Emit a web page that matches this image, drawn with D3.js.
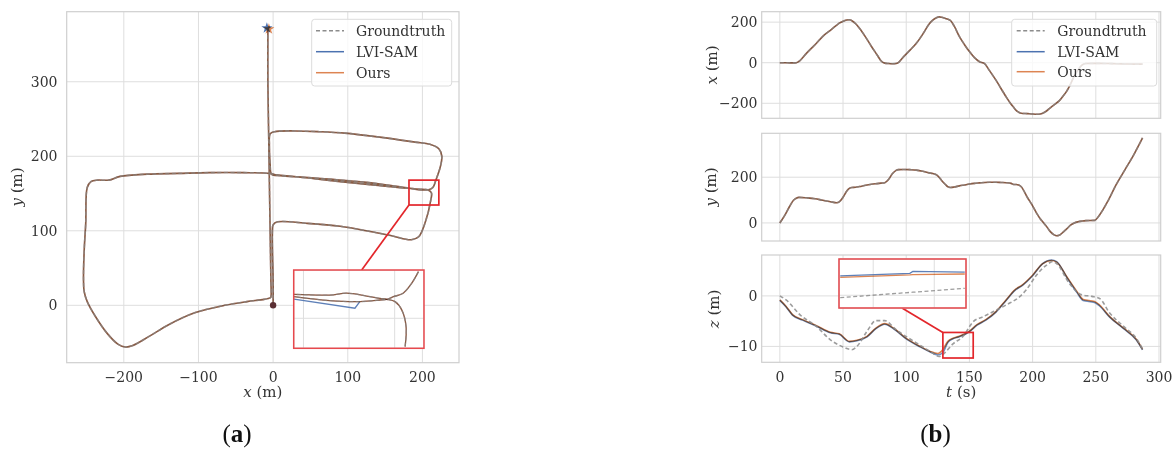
<!DOCTYPE html>
<html>
<head>
<meta charset="utf-8">
<script src="https://cdn.jsdelivr.net/npm/d3@7"></script>
<style>
body { margin: 0; background: #fff; }
svg text { font-family: "DejaVu Serif", serif; fill: #333; }
</style>
</head>
<body>
<svg id="fig" width="1173" height="451"></svg>
<script>
// trajectory (same for all three methods in x / y)
const trajTime = [0,4,8,11,13,15,21,28,34,40,45,47,50,53,55,57,60,63,68,72.5,77,80,83,86,89,92,94,98,103,108,113,118,121,124,126,128,131,133,135,138,142,146,150,154,158,162,166,171,175,179,183,185,187,189,191,196,200,204,206,208,211,214,217,219,221,224,227,230,233,236,239,242,249,253,260,266,273,280,287];
const trajX = [0,0,-1,-1,0,6,46,90,130,160,185,195,204,211,212,207,192,170,125,80,38,10,-2,-4,-5,-4,2,30,62,96,140,190,210,222,226,224,218,214,208,180,130,90,55,25,5,-5,-40,-86,-127,-168,-205,-220,-235,-244,-249,-251,-253,-254,-253,-249,-238,-222,-208,-198,-188,-165,-140,-105,-65,-35,-12,-4,-3,-3,-4,-5,-6,-7,-7];
const trajY = [0,34,75,100,108,112,110,106,99,93,88,92,112,140,151,155,156,159,165,169,172,174,176,190,215,230,233,234,233,231,226,219,216,210,200,186,168,158,155,157,162,166,170,173,175,177,178,178,177,176,173,168,168,166,158,110,75,35,18,5,-15,-38,-52,-56,-54,-41,-26,-10,0,5,8,10,11,35,100,166,232,298,372];

// height
const zTime = [0,5,10,18,29,40,47,55,61,69,76,83,90,100,111,119,125,129,133,137,142,150,156,163,171,179,186,192,200,208,215,219,227,235,240,249,253,261,272,282,287];
const zOurs = [-0.8,-2.1,-3.7,-4.7,-5.9,-7.2,-7.5,-9.0,-8.8,-8.0,-6.4,-5.5,-6.4,-8.4,-10.0,-11.0,-11.4,-10.6,-9.0,-8.4,-8.0,-7.0,-5.7,-4.7,-3.1,-0.8,1.2,2.2,4.1,6.4,7.0,6.7,3.8,0.9,-0.7,-1.1,-1.8,-4.1,-6.4,-8.6,-10.6];
const zLvi  = [-0.9,-2.2,-3.8,-4.8,-6.0,-7.3,-7.6,-9.1,-8.9,-8.1,-6.5,-5.6,-6.5,-8.5,-10.1,-11.1,-11.7,-11.2,-9.2,-8.5,-8.1,-7.1,-5.8,-4.8,-3.2,-0.9,1.1,2.1,4.0,6.4,7.1,6.8,3.7,0.7,-0.9,-1.3,-2.0,-4.2,-6.5,-8.7,-10.7];
const zGtTime = [0,5,16,29,40,50,57,61,69,76,83,92,108,119,126,129,137,145,153,161,169,179,190,195,203,211,216,219,229,239,247,253,261,272,282,287];
const zGt = [0,-0.8,-3.75,-6.05,-8.7,-10.1,-10.65,-10.0,-7.0,-4.9,-4.9,-6.7,-9.3,-11.0,-12.0,-11.6,-9.5,-8.0,-5.1,-4.1,-3.1,-1.8,-0.1,1.2,4.1,6.1,6.8,6.4,2.5,0.2,-0.1,-0.5,-3.4,-6.05,-8.4,-10.5];

// zoomed detail of (a): the two passes through the red box
const detailPass1 = [[216.2,135.3],[216.5,143.8],[215.2,150.9],[213.1,154.5],[210.6,155.5],[208.5,155.9],[204.4,156.9],[198.3,158.1],[193.1,157.3],[182.1,157.6]];
const detailPass2 = [[220.3,167.3],[218.2,162.3],[215.6,158.1],[212.6,156.6],[210.6,155.5],[208.5,155.2],[202.4,154.5],[193.1,154.9],[182.1,156.6]];
const detailPass2Lvi = [[202.3,154.5],[200.8,151.7],[182.1,155.6]];
const detailBoxA = [182, 222, 134.6, 168];
const detailGridXA = [185, 199, 213];
const detailGridYA = [147.4];

// zoomed detail of (b)
const detailT = [139.46, 140.6, 140.65, 141.5];
const detailLvi = [-8.573, -8.546, -8.526, -8.533];
const detailOurs = [-8.587, -8.562, -8.560, -8.553];
const detailGt = [-8.795, -8.741, -8.739, -8.699];
const detailGridT = [140, 141];
const detailBoxB = [129, 153, -12.3, -7.24];

const legendNames = ["Groundtruth", "LVI-SAM", "Ours"];
const xTicksA = [-200, -100, 0, 100, 200];
const yTicksA = [0, 100, 200, 300];
const tTicks = [0, 50, 100, 150, 200, 250, 300];
const xTicksB = [-200, 0, 200];
const yTicksB = [0, 200];
const zTicksB = [-10, 0];

const BLUE = "#4c72b0", ORANGE = "#dd8452", GRAY = "#8c8c8c", RED = "#e3262b";
const GRID = "#dedede", FRAME = "#cfcfcf";

const svg = d3.select("#fig");
const fmt = d3.format("");

function frame(l, r, t, b, xs, ys, xt, yt) {
  const g = svg.append("g");
  g.append("rect").attr("x", l).attr("y", t).attr("width", r - l).attr("height", b - t).attr("fill", "#fff");
  g.selectAll(".gx").data(xt).enter().append("line")
    .attr("x1", d => xs(d)).attr("x2", d => xs(d)).attr("y1", t).attr("y2", b)
    .attr("stroke", GRID).attr("stroke-width", 1);
  g.selectAll(".gy").data(yt).enter().append("line")
    .attr("y1", d => ys(d)).attr("y2", d => ys(d)).attr("x1", l).attr("x2", r)
    .attr("stroke", GRID).attr("stroke-width", 1);
  g.append("rect").attr("x", l).attr("y", t).attr("width", r - l).attr("height", b - t)
    .attr("fill", "none").attr("stroke", FRAME).attr("stroke-width", 1.2);
  return g;
}

function leftLabels(xpos, ys, ticks) {
  svg.append("g").selectAll("text").data(ticks).enter().append("text")
    .attr("x", xpos).attr("y", d => ys(d)).attr("dy", "0.35em")
    .attr("text-anchor", "end").attr("font-size", 14).text(d => fmt(d));
}
function bottomLabels(ypos, xs, ticks) {
  svg.append("g").selectAll("text").data(ticks).enter().append("text")
    .attr("x", d => xs(d)).attr("y", ypos)
    .attr("text-anchor", "middle").attr("font-size", 14).text(d => fmt(d));
}
function axisTitle(x, y, v, unit, rot) {
  const t = svg.append("text").attr("font-size", 15).attr("text-anchor", "middle")
    .attr("transform", `translate(${x},${y})` + (rot ? " rotate(-90)" : ""));
  t.append("tspan").attr("font-style", "italic").text(v);
  t.append("tspan").text(" (" + unit + ")");
}
// the three estimates mostly lie on top of each other: blue, then orange multiplied on it, then dashed truth
function drawLine(g, pts, gen, color, dashed, w, curve) {
  const p = g.append("path").datum(pts).attr("d", curve ? gen.curve(curve) : gen).attr("fill", "none")
    .attr("stroke", color).attr("stroke-width", w || 1.6)
    .attr("stroke-dasharray", dashed ? "4,2.5" : null);
  if (color === BLUE) p.attr("stroke-opacity", 0.55);
  if (color === ORANGE) p.style("mix-blend-mode", "multiply");
  if (dashed) p.attr("stroke-opacity", 0.6);
  return p;
}
function legend(x0, y0, w, h, lineX, textX, rows) {
  const g = svg.append("g");
  g.append("rect").attr("x", x0).attr("y", y0).attr("width", w).attr("height", h).attr("rx", 3)
    .attr("fill", "#fff").attr("fill-opacity", 0.8).attr("stroke", "#dcdcdc");
  const cols = [GRAY, BLUE, ORANGE];
  legendNames.forEach((n, i) => {
    g.append("line").attr("x1", lineX).attr("x2", lineX + 28).attr("y1", rows[i]).attr("y2", rows[i])
      .attr("stroke", cols[i]).attr("stroke-width", 1.5).attr("stroke-dasharray", i === 0 ? "4,2.5" : null);
    g.append("text").attr("x", textX).attr("y", rows[i]).attr("dy", "0.35em").attr("font-size", 14).text(n);
  });
}

// ---------------- (a) ----------------
const A = { l: 66.7, r: 459, t: 11.7, b: 362.7 };
const xA = d3.scaleLinear().domain([-276.5, 249]).range([A.l, A.r]);
const yA = d3.scaleLinear().domain([-77, 394]).range([A.b, A.t]);
const gA = frame(A.l, A.r, A.t, A.b, xA, yA, xTicksA, yTicksA);
const pathPts = trajTime.map((t, i) => [trajX[i], trajY[i]]);
const lineA = d3.line().x(d => xA(d[0])).y(d => yA(d[1])).curve(d3.curveCatmullRom.alpha(0.5));
drawLine(gA, pathPts, lineA, BLUE);
drawLine(gA, pathPts, lineA, ORANGE);
drawLine(gA, pathPts, lineA, GRAY, true);
const last = pathPts[pathPts.length - 1];
gA.append("circle").attr("cx", xA(0)).attr("cy", yA(0)).attr("r", 3.2).attr("fill", "#5b2f33");
gA.append("path").attr("d", d3.symbol(d3.symbolStar).size(38)())
  .attr("transform", `translate(${xA(last[0]) - 1},${yA(last[1])})`).attr("fill", BLUE);
gA.append("path").attr("d", d3.symbol(d3.symbolStar).size(38)())
  .attr("transform", `translate(${xA(last[0]) + 1},${yA(last[1]) + 1})`).attr("fill", ORANGE).style("mix-blend-mode", "multiply");
leftLabels(57.5, yA, yTicksA);
bottomLabels(381.5, xA, xTicksA);
axisTitle(262.8, 397, "x", "m", false);
axisTitle(22, 187, "y", "m", true);
legend(311.7, 19.3, 140, 66.7, 316, 356, [30.7, 51.7, 72.7]);

// detail box (a)
const bA = { l: 293.7, r: 424, t: 270, b: 348.3 };
gA.append("rect").attr("x", xA(detailBoxA[0])).attr("y", yA(detailBoxA[3]))
  .attr("width", xA(detailBoxA[1]) - xA(detailBoxA[0])).attr("height", yA(detailBoxA[2]) - yA(detailBoxA[3]))
  .attr("fill", "none").attr("stroke", RED).attr("stroke-width", 1.7);
gA.append("line").attr("x1", xA(detailBoxA[0])).attr("y1", yA(detailBoxA[2])).attr("x2", 361.7).attr("y2", bA.t)
  .attr("stroke", RED).attr("stroke-width", 1.7);
const dxA = d3.scaleLinear().domain([detailBoxA[0], detailBoxA[1]]).range([bA.l, bA.r]);
const dyA = d3.scaleLinear().domain([detailBoxA[2], detailBoxA[3]]).range([bA.b, bA.t]);
const gDA = frame(bA.l, bA.r, bA.t, bA.b, dxA, dyA, detailGridXA, detailGridYA);
svg.append("clipPath").attr("id", "clipA").append("rect").attr("x", bA.l).attr("y", bA.t).attr("width", bA.r - bA.l).attr("height", bA.b - bA.t);
gDA.attr("clip-path", "url(#clipA)");
const lineDA = () => d3.line().x(d => dxA(d[0])).y(d => dyA(d[1])).curve(d3.curveCatmullRom.alpha(0.5));
drawLine(gDA, detailPass1, lineDA(), BLUE, false, 1.3);
drawLine(gDA, detailPass2, lineDA(), BLUE, false, 1.3);
drawLine(gDA, detailPass2Lvi, lineDA(), BLUE, false, 1.3, d3.curveLinear).attr("stroke-opacity", 0.9);
drawLine(gDA, detailPass1, lineDA(), ORANGE, false, 1.3);
drawLine(gDA, detailPass2, lineDA(), ORANGE, false, 1.3);
drawLine(gDA, detailPass1, lineDA(), GRAY, true, 1.3);
drawLine(gDA, detailPass2, lineDA(), GRAY, true, 1.3);
svg.append("rect").attr("x", bA.l).attr("y", bA.t).attr("width", bA.r - bA.l).attr("height", bA.b - bA.t)
  .attr("fill", "none").attr("stroke", "#e8484d").attr("stroke-width", 1.5);

// ---------------- (b) ----------------
const B = { l: 761.7, r: 1160.7 };
const tB = d3.scaleLinear().domain([-14.35, 301.35]).range([B.l, B.r]);
const lineT = (ys) => d3.line().x(d => tB(d[0])).y(d => ys(d[1])).curve(d3.curveMonotoneX);

// x(t)
const xB = d3.scaleLinear().domain([-274, 251.5]).range([118.3, 11.7]);
const g1 = frame(B.l, B.r, 11.7, 118.3, tB, xB, tTicks, xTicksB);
const xSeries = trajTime.map((t, i) => [t, trajX[i]]);
drawLine(g1, xSeries, lineT(xB), BLUE);
drawLine(g1, xSeries, lineT(xB), ORANGE);
drawLine(g1, xSeries, lineT(xB), GRAY, true);
leftLabels(757.5, xB, xTicksB);
axisTitle(717, 65, "x", "m", true);
legend(1011.7, 19.3, 145, 66.7, 1016.7, 1057.3, [30.7, 51.7, 71.7]);

// y(t)
const yB = d3.scaleLinear().domain([-79, 392]).range([241, 133.3]);
const g2 = frame(B.l, B.r, 133.3, 241, tB, yB, tTicks, yTicksB);
const ySeries = trajTime.map((t, i) => [t, trajY[i]]);
drawLine(g2, ySeries, lineT(yB), BLUE);
drawLine(g2, ySeries, lineT(yB), ORANGE);
drawLine(g2, ySeries, lineT(yB), GRAY, true);
leftLabels(757.5, yB, yTicksB);
axisTitle(716, 187, "y", "m", true);

// z(t)
const zB = d3.scaleLinear().domain([-13.15, 8.1]).range([362.3, 255]);
const g3 = frame(B.l, B.r, 255, 362.3, tB, zB, tTicks, zTicksB);
drawLine(g3, zTime.map((t, i) => [t, zLvi[i]]), lineT(zB), BLUE).attr("stroke-opacity", 0.8);
drawLine(g3, zTime.map((t, i) => [t, zOurs[i]]), lineT(zB), ORANGE);
drawLine(g3, zGtTime.map((t, i) => [t, zGt[i]]), lineT(zB), GRAY, true).attr("stroke-opacity", 0.85);
leftLabels(757.5, zB, zTicksB);
bottomLabels(382, tB, tTicks);
axisTitle(719, 309, "z", "m", true);
axisTitle(961.2, 397, "t", "s", false);

// detail box (b)
const bB = { l: 839, r: 966, t: 259, b: 308 };
g3.append("rect").attr("x", tB(detailBoxB[0])).attr("y", zB(detailBoxB[3]))
  .attr("width", tB(detailBoxB[1]) - tB(detailBoxB[0])).attr("height", zB(detailBoxB[2]) - zB(detailBoxB[3]))
  .attr("fill", "none").attr("stroke", RED).attr("stroke-width", 1.7);
g3.append("line").attr("x1", 902).attr("y1", bB.b).attr("x2", tB(detailBoxB[0])).attr("y2", zB(detailBoxB[3]))
  .attr("stroke", RED).attr("stroke-width", 1.7);
const dtB = d3.scaleLinear().domain([139.44, 141.52]).range([bB.l, bB.r]);
const dzB = d3.scaleLinear().domain([-8.9, -8.4]).range([bB.b, bB.t]);
const gDB = frame(bB.l, bB.r, bB.t, bB.b, dtB, dzB, detailGridT, [-8.77]);
const lineDB = () => d3.line().x(d => dtB(d[0])).y(d => dzB(d[1]));
drawLine(gDB, detailT.map((t, i) => [t, detailLvi[i]]), lineDB(), BLUE, false, 1.3).attr("stroke-opacity", 0.9);
drawLine(gDB, detailT.map((t, i) => [t, detailOurs[i]]), lineDB(), ORANGE, false, 1.3);
drawLine(gDB, detailT.map((t, i) => [t, detailGt[i]]), lineDB(), GRAY, true, 1.3).attr("stroke-opacity", 0.85);
svg.append("rect").attr("x", bB.l).attr("y", bB.t).attr("width", bB.r - bB.l).attr("height", bB.b - bB.t)
  .attr("fill", "none").attr("stroke", "#e8484d").attr("stroke-width", 1.5);

// captions
function caption(x, letter) {
  const t = svg.append("text").attr("x", x).attr("y", 442).attr("text-anchor", "middle")
    .attr("font-size", 25).style("font-family", "'Liberation Serif', serif").style("fill", "#111");
  t.append("tspan").text("(");
  t.append("tspan").attr("font-weight", "bold").text(letter);
  t.append("tspan").text(")");
}
caption(237, "a");
caption(935.5, "b");
</script>
</body>
</html>
